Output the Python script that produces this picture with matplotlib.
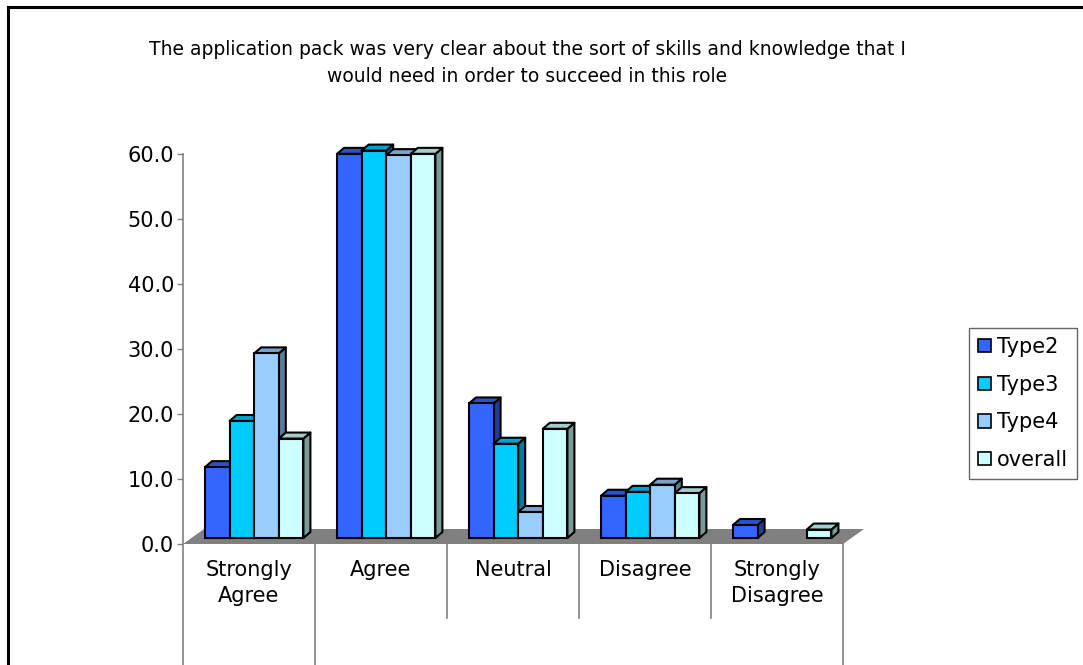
import matplotlib
matplotlib.use("Agg")
import matplotlib.pyplot as plt
from matplotlib.patches import Polygon, Patch
from matplotlib.lines import Line2D
from matplotlib.transforms import ScaledTranslation, blended_transform_factory

categories = ["Strongly\nAgree", "Agree", "Neutral", "Disagree", "Strongly\nDisagree"]
series_names = ["Type2", "Type3", "Type4", "overall"]
type2 = [10.9, 59.1, 20.7, 6.5, 2.0]
type3 = [18.0, 59.6, 14.5, 7.1, 0.0]
type4 = [28.4, 58.9, 4.0, 8.2, 0.0]
overall = [15.3, 59.1, 16.8, 6.9, 1.3]
colors = ["#3366FF", "#00CCFF", "#99CCFF", "#CCFFFF"]
y_ticks = [0, 10, 20, 30, 40, 50, 60]
title = ("The application pack was very clear about the sort of skills and knowledge that I\n"
         "would need in order to succeed in this role")

series = [type2, type3, type4, overall]

W, H, DPI = 1083, 665, 100
fig = plt.figure(figsize=(W / DPI, H / DPI), dpi=DPI)
fig.patch.set_facecolor("white")

# plot area in pixels
x0, x1 = 183, 843
y_zero, y_top = 544, 154
ax = fig.add_axes([x0 / W, (H - y_zero) / H, (x1 - x0) / W, (y_zero - y_top) / H])
ax.set_xlim(0, len(categories))
ax.set_ylim(0, 60)
ax.set_facecolor("none")
for s in ax.spines.values():
    s.set_visible(False)

px_x = (x1 - x0) / len(categories)   # pixels per category unit
px_y = (y_zero - y_top) / 60.0       # pixels per value unit

def shade(c, f):
    r, g, b = matplotlib.colors.to_rgb(c)
    return (r * f, g * f, b * f)

# floor of the 3D plot
fdx, fdy = 21 / px_x, 15 / px_y
floor = Polygon([(0, 0), (5, 0), (5 + fdx, fdy), (fdx, fdy)], closed=True,
                facecolor="#808080", edgecolor="none", zorder=1, clip_on=False)
ax.add_patch(floor)

# bars sit at mid-depth of the floor
bar_shift = ax.transData + ScaledTranslation(0, 6 / DPI, fig.dpi_scale_trans)
group_off = 22 / px_x
bar_w = 24.6 / px_x
ddx, ddy = 7 / px_x, 6 / px_y
lw = 1.5

z = 2
for i in range(len(categories)):
    for j, vals in enumerate(series):
        v = vals[i]
        if v <= 0:
            continue
        left = i + group_off + j * bar_w
        right = left + bar_w
        c = colors[j]
        side = Polygon([(right, 0), (right + ddx, ddy), (right + ddx, v + ddy), (right, v)],
                       closed=True, facecolor=shade(c, 0.6), edgecolor="black",
                       linewidth=lw, transform=bar_shift, zorder=z, clip_on=False,
                       joinstyle="round")
        top = Polygon([(left, v), (right, v), (right + ddx, v + ddy), (left + ddx, v + ddy)],
                      closed=True, facecolor=shade(c, 0.8), edgecolor="black",
                      linewidth=lw, transform=bar_shift, zorder=z, clip_on=False,
                      joinstyle="round")
        ax.add_patch(side)
        ax.add_patch(top)
        ax.bar(left, v, width=bar_w, align="edge", color=c, edgecolor="black",
               linewidth=lw, transform=bar_shift, zorder=z + 0.5, clip_on=False)
        z += 1

# value axis
ax.set_yticks(y_ticks)
ax.set_yticklabels([f"{t:.1f}" for t in y_ticks], fontsize=15, color="black")
ax.tick_params(axis="y", direction="out", length=4.5, width=1, color="#808080", pad=2)
ax.set_xticks([])

trans = blended_transform_factory(ax.transData, ax.transAxes)
y_img_bottom = -(H - y_zero) / (y_zero - y_top)
y_short = -(618 - y_zero) / (y_zero - y_top)
for k in range(len(categories) + 1):
    yb = y_img_bottom if k in (0, 1, 5) else y_short
    ax.add_line(Line2D([k, k], [1.0 if k == 0 else 0, yb], transform=trans,
                       color="#808080", linewidth=1.2, clip_on=False, zorder=0))

# category labels
for i, cat in enumerate(categories):
    ax.text(i + 0.5, -(560 - y_zero) / (y_zero - y_top), cat, transform=trans,
            ha="center", va="top", fontsize=15, linespacing=1.35)

# title
fig.text(527 / W, 1 - 63 / H, title, ha="center", va="center", fontsize=13.5,
         linespacing=1.5)

# legend
handles = [Patch(facecolor=c, edgecolor="black", linewidth=1.2) for c in colors]
leg = fig.legend(handles, series_names, loc="center",
                 bbox_to_anchor=(1023 / W, 1 - 403.5 / H), bbox_transform=fig.transFigure,
                 fontsize=15, frameon=True, fancybox=False, borderpad=0.45,
                 handlelength=0.6, handleheight=0.6, handletextpad=0.3,
                 labelspacing=0.85, borderaxespad=0)
leg.get_frame().set_edgecolor("#404040")
leg.get_frame().set_linewidth(1.0)

# chart area border (left and top edges)
fig.add_artist(Line2D([7.5 / W, 7.5 / W], [0, 1 - 6.5 / H], transform=fig.transFigure,
                      color="black", linewidth=2.2))
fig.add_artist(Line2D([7.5 / W, 1], [1 - 6.5 / H, 1 - 6.5 / H], transform=fig.transFigure,
                      color="black", linewidth=2.2))

fig.savefig("out.png", dpi=DPI)
